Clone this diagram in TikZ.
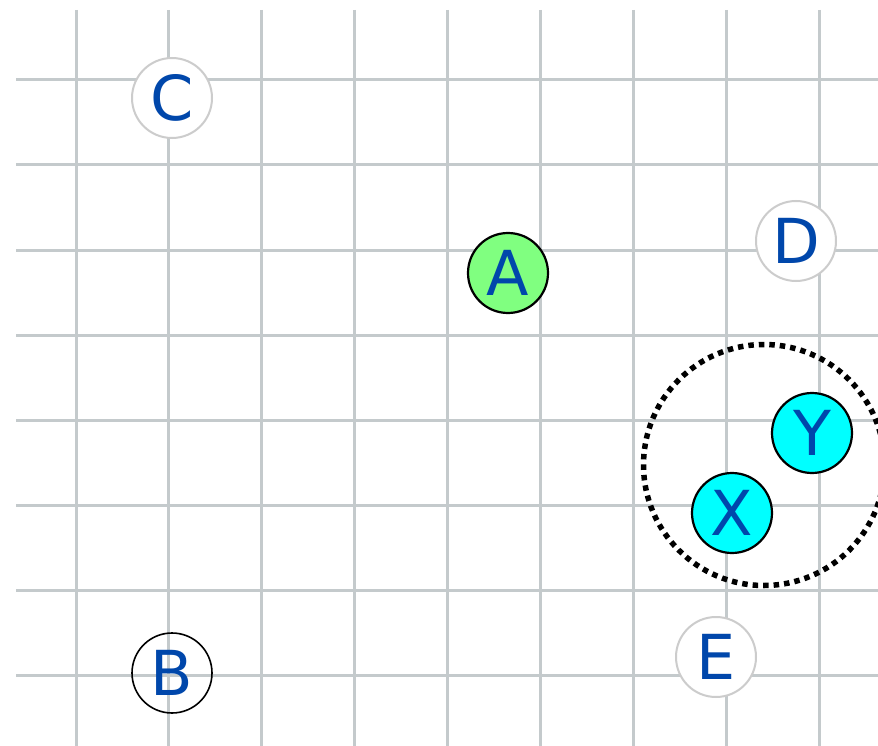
\documentclass[tikz,border=0pt]{standalone}
\usepackage{fontspec}
\setmainfont{DejaVu Sans}
\definecolor{gridgray}{RGB}{196,202,204}
\definecolor{txtblue}{RGB}{0,71,171}
\definecolor{ringgray}{RGB}{204,204,204}
\definecolor{lgreen}{RGB}{128,255,128}
\definecolor{cyanfill}{RGB}{0,255,255}
\begin{document}
\begin{tikzpicture}[x=1pt,y=-1pt,
  gridline/.style={line width=3pt, draw=gridgray},
  vtx/.style={circle, minimum size=80pt, inner sep=0pt, font=\fontsize{62}{62}\selectfont, text=txtblue},
  plainv/.style={vtx, draw=ringgray, fill=white, line width=2pt},
  openv/.style={vtx, draw=black, line width=1.6pt},
  greenv/.style={vtx, draw=black, fill=lgreen, line width=2.2pt},
  cyanv/.style={vtx, draw=black, fill=cyanfill, line width=2.2pt},
  groupring/.style={circle, minimum size=241pt, inner sep=0pt, draw=black, line width=5.5pt, dash pattern=on 5.5pt off 5pt}]
\useasboundingbox (0,0) rectangle (878,746);
\fill[white] (0,0) rectangle (878,746);
\foreach \i in {0,...,8} \draw[gridline] ({76+92.9*\i},10) -- ({76+92.9*\i},746);
\foreach \j in {0,...,7} \draw[gridline] (16,{80+85*\j}) -- (878,{80+85*\j});
\node[groupring] (G) at (764,465) {};
\node[plainv] (C) at (172,98) {C};
\node[plainv] (D) at (796,241) {D};
\node[greenv] (A) at (508,273) {A};
\node[cyanv] (Y) at (812,433) {Y};
\node[cyanv] (X) at (732,513) {X};
\node[openv] (B) at (172,673) {B};
\node[plainv] (E) at (716,657) {E};
\end{tikzpicture}
\end{document}
